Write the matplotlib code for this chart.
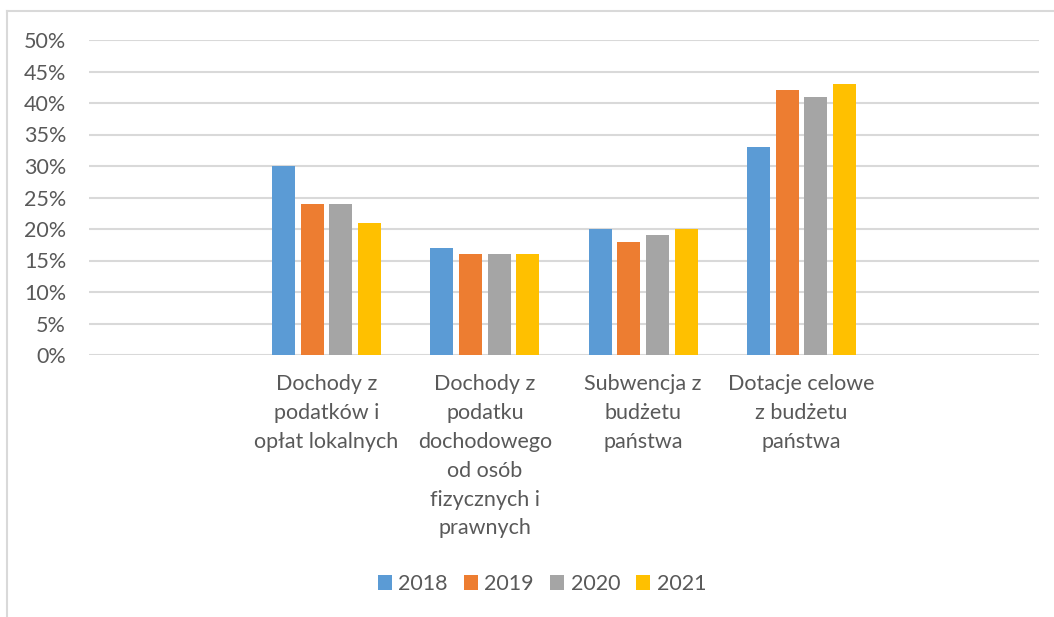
import matplotlib
matplotlib.use("Agg")
import matplotlib.pyplot as plt
from matplotlib.patches import Patch
from matplotlib.lines import Line2D
import numpy as np

categories = ["",
              "Dochody z\npodatków i\nopłat lokalnych",
              "Dochody z\npodatku\ndochodowego\nod osób\nfizycznych i\nprawnych",
              "Subwencja z\nbudżetu\npaństwa",
              "Dotacje celowe\nz budżetu\npaństwa",
              ""]
years = ["2018", "2019", "2020", "2021"]
v2018 = [None, 30, 17, 20, 33, None]
v2019 = [None, 24, 16, 18, 42, None]
v2020 = [None, 24, 16, 19, 41, None]
v2021 = [None, 21, 16, 20, 43, None]
yticks = [0, 5, 10, 15, 20, 25, 30, 35, 40, 45, 50]

colors = ["#5B9BD5", "#ED7D31", "#A5A5A5", "#FFC000"]
text_color = "#595959"
grid_color = "#D9D9D9"

plt.rcParams['font.family'] = ['Lato', 'DejaVu Sans']

fig = plt.figure(figsize=(10.54, 6.17), dpi=100)
ax = fig.add_axes([89/1054, 1-355/617, (1039-89)/1054, (355-40)/617])

x = np.arange(len(categories))
width = 0.145
step = 0.181
series = [v2018, v2019, v2020, v2021]
for i, (vals, c) in enumerate(zip(series, colors)):
    xs = [xi for xi, v in zip(x, vals) if v is not None]
    ys = [v for v in vals if v is not None]
    ax.bar(np.array(xs) + (i - 1.5) * step, ys, width=width, color=c,
           zorder=3, label=years[i])

ax.set_xlim(-0.5, len(categories) - 0.5)
ax.set_ylim(0, 50)
ax.set_yticks(yticks)
ax.set_yticklabels([f"{t}%" for t in yticks])
ax.set_xticks(x)
ax.set_xticklabels(categories, linespacing=1.55)
ax.tick_params(axis='both', length=0, colors=text_color, labelsize=15.5)
ax.tick_params(axis='x', pad=14)
ax.tick_params(axis='y', pad=16.5)
ax.grid(axis='y', color=grid_color, linewidth=1.5, zorder=0)
for s in ax.spines.values():
    s.set_visible(False)

handles = [Patch(facecolor=c, edgecolor='none') for c in colors]
leg = fig.legend(handles, years, loc='center', bbox_to_anchor=(542/1054, 1-584/617),
                 ncol=4, frameon=False, handlelength=0.65, handleheight=0.65,
                 handletextpad=0.3, columnspacing=0.75, fontsize=15.5)
for t in leg.get_texts():
    t.set_color(text_color)

# outer chart border (left & top)
fig.add_artist(Line2D([7/1054, 7/1054], [0, 1-11/617], transform=fig.transFigure,
                      color=grid_color, linewidth=1.5))
fig.add_artist(Line2D([7/1054, 1], [1-11/617, 1-11/617], transform=fig.transFigure,
                      color=grid_color, linewidth=1.5))

fig.savefig("out.png", dpi=100)
